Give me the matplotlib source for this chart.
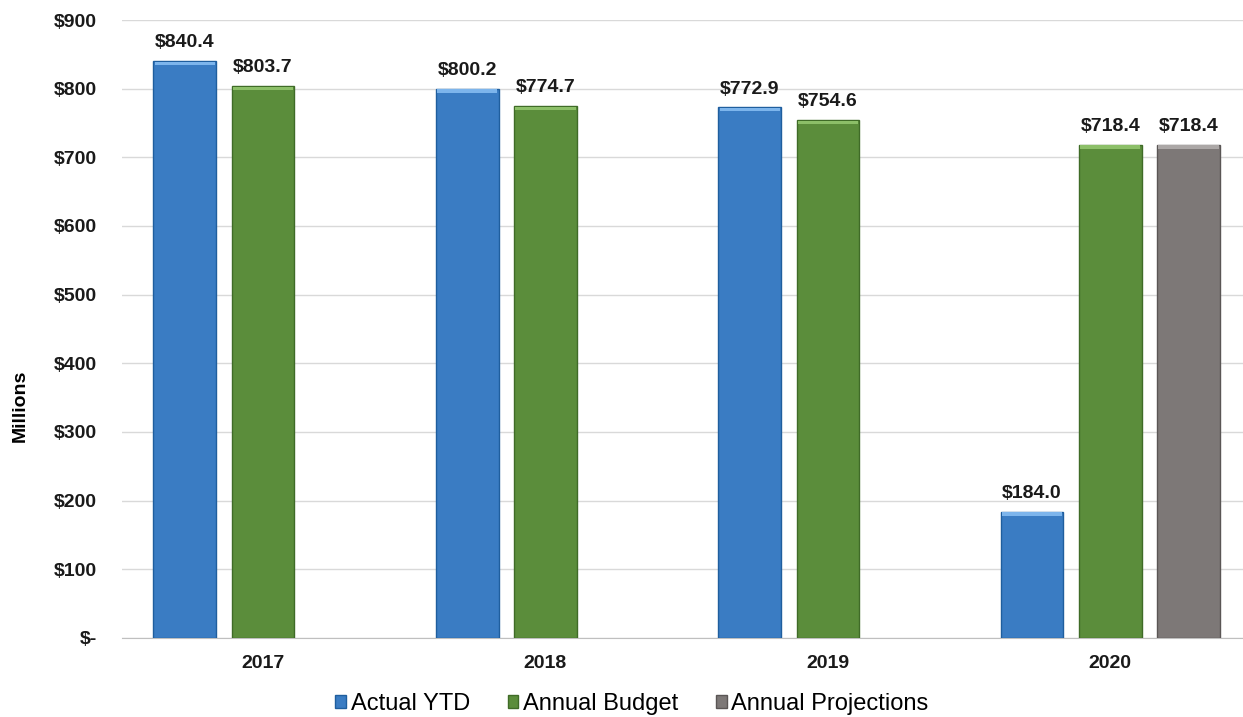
import numpy as np
import matplotlib.pyplot as plt
from matplotlib.ticker import FuncFormatter

plt.rcParams['font.family'] = ['Liberation Sans', 'DejaVu Sans']

years = ['2017', '2018', '2019', '2020']
actual_ytd = [840.4, 800.2, 772.9, 184.0]
annual_budget = [803.7, 774.7, 754.6, 718.4]
annual_proj = [np.nan, np.nan, np.nan, 718.4]

series = [('Actual YTD', actual_ytd, '#3A7CC3', '#1F5E9E', '#7DB5EC'),
          ('Annual Budget', annual_budget, '#5B8D3B', '#3F6B27', '#8CBF68'),
          ('Annual Projections', annual_proj, '#7D7877', '#5A5655', '#ABA7A6')]

fig = plt.figure(figsize=(12.43, 7.17), dpi=100)
ax = fig.add_axes([0.098, 0.1102, 0.902, 0.8619])

x = np.arange(len(years))
w = 0.222
step = 0.277

for i, (name, vals, col, edge, hi) in enumerate(series):
    vals = np.array(vals, dtype=float)
    pos = x + (i - 1) * step
    ax.bar(pos, vals, w, color=col, edgecolor=edge, linewidth=1.0, label=name, zorder=3)
    # lighter bevel on top of each bar
    ax.bar(pos, np.full_like(vals, 5.0), w * 0.96, bottom=vals - 6.0, color=hi,
           linewidth=0, zorder=4)
    for p, v in zip(pos, vals):
        if np.isnan(v):
            continue
        ax.annotate(f'${v:.1f}', (p, v), xytext=(0, 7), textcoords='offset points',
                    ha='center', va='bottom', fontsize=14, fontweight='bold',
                    color='#1a1a1a')

ax.set_xlim(-0.5, 3.47)
ax.set_ylim(0, 900)
ax.set_yticks(np.arange(0, 901, 100))
ax.yaxis.set_major_formatter(FuncFormatter(lambda v, p: '$-' if v == 0 else f'${v:.0f}'))
ax.set_xticks(x)
ax.set_xticklabels(years)
ax.tick_params(length=0, labelsize=14, colors='#1a1a1a')
ax.tick_params(axis='x', pad=12)
ax.tick_params(axis='y', pad=18)
for lbl in ax.get_xticklabels() + ax.get_yticklabels():
    lbl.set_fontweight('bold')

ax.grid(axis='y', color='#D9D9D9', linewidth=1, zorder=0)
ax.set_axisbelow(True)
for s in ['top', 'right', 'left']:
    ax.spines[s].set_visible(False)
ax.spines['bottom'].set_color('#BFBFBF')

ax.set_ylabel('Millions', fontsize=14, fontweight='bold')
ax.yaxis.set_label_coords(-0.083, 0.375)

leg = ax.legend(loc='center', bbox_to_anchor=(0.455, -0.107), ncol=3, frameon=False,
                fontsize=17, handlelength=0.45, handleheight=0.45, handletextpad=0.2,
                columnspacing=1.6)

fig.savefig('out.png', dpi=100)
